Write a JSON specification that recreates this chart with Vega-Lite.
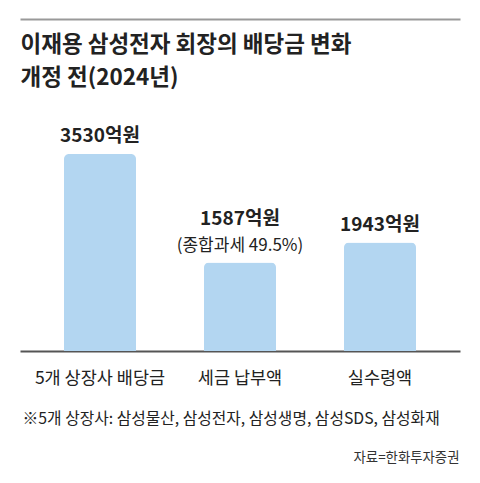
{
  "$schema": "https://vega.github.io/schema/vega-lite/v6.json",
  "width": 440,
  "height": 332,
  "autosize": "none",
  "padding": {"left": 20, "top": 19, "right": 20, "bottom": 132},
  "config": {"font": "Noto Sans CJK KR", "view": {"stroke": null}},
  "data": {
    "values": [
      {"category": "5개 상장사 배당금", "value": 3530, "label": "3530억원"},
      {"category": "세금 납부액", "value": 1587, "label": "1587억원", "sub": "(종합과세 49.5%)"},
      {"category": "실수령액", "value": 1943, "label": "1943억원"}
    ]
  },
  "encoding": {
    "y": {
      "field": "value",
      "type": "quantitative",
      "scale": {"domain": [0, 5950], "nice": false, "zero": true},
      "axis": {
        "orient": "left",
        "title": ["이재용 삼성전자 회장의 배당금 변화", "개정 전(2024년)"],
        "titleAngle": 0,
        "titleX": 0,
        "titleY": 32.5,
        "titleAlign": "left",
        "titleBaseline": "alphabetic",
        "titleFontSize": 22.5,
        "titleFontWeight": "bold",
        "titleColor": "#222222",
        "titleLineHeight": 33,
        "titleLimit": 1000,
        "domain": false,
        "ticks": false,
        "labels": false,
        "grid": false
      }
    }
  },
  "layer": [
    {
      "mark": {"type": "bar", "color": "#b3d6f1", "cornerRadiusTopLeft": 5, "cornerRadiusTopRight": 5},
      "encoding": {
        "x": {
          "field": "category",
          "type": "nominal",
          "sort": null,
          "scale": {"paddingInner": 0.4857, "paddingOuter": 0.3143},
          "axis": {
            "orient": "bottom",
            "title": "※5개 상장사: 삼성물산, 삼성전자, 삼성생명, 삼성SDS, 삼성화재",
            "titleX": 2,
            "titleY": 72,
            "titleAlign": "left",
            "titleAnchor": "start",
            "titleBaseline": "alphabetic",
            "titleFontSize": 15.8,
            "titleFontWeight": "normal",
            "titleColor": "#222222",
            "titleLimit": 1000,
            "labelAngle": 0,
            "labelFontSize": 17.5,
            "labelColor": "#222222",
            "labelPadding": 18,
            "labelBaseline": "top",
            "labelLimit": 300,
            "ticks": false,
            "tickSize": 0,
            "grid": false,
            "domainColor": "#555555",
            "domainWidth": 2
          }
        }
      }
    },
    {
      "transform": [{"filter": "!datum.sub"}],
      "mark": {"type": "text", "dy": -12, "baseline": "alphabetic", "fontSize": 19, "fontWeight": "bold", "color": "#222222"},
      "encoding": {
        "x": {
          "field": "category",
          "type": "nominal",
          "sort": null,
          "scale": {"paddingInner": 0.4857, "paddingOuter": 0.3143},
          "axis": {
            "orient": "top",
            "title": "자료=한화투자증권",
            "titleX": 439,
            "titleY": 442,
            "titleAlign": "right",
            "titleBaseline": "alphabetic",
            "titleFontSize": 13.4,
            "titleFontWeight": "normal",
            "titleColor": "#333333",
            "titleLimit": 1000,
            "labels": false,
            "ticks": false,
            "grid": false,
            "domainColor": "#999999",
            "domainWidth": 2
          }
        },
        "text": {"field": "label"}
      }
    },
    {
      "transform": [{"filter": "datum.sub"}],
      "mark": {"type": "text", "dy": -37, "baseline": "alphabetic", "fontSize": 19, "fontWeight": "bold", "color": "#222222"},
      "encoding": {
        "x": {"field": "category", "type": "nominal", "sort": null, "axis": null},
        "text": {"field": "label"}
      }
    },
    {
      "transform": [{"filter": "datum.sub"}],
      "mark": {"type": "text", "dy": -11, "baseline": "alphabetic", "fontSize": 17, "fontWeight": "normal", "color": "#222222"},
      "encoding": {
        "x": {"field": "category", "type": "nominal", "sort": null, "axis": null},
        "text": {"field": "sub"}
      }
    }
  ],
  "resolve": {"axis": {"x": "independent"}}
}
